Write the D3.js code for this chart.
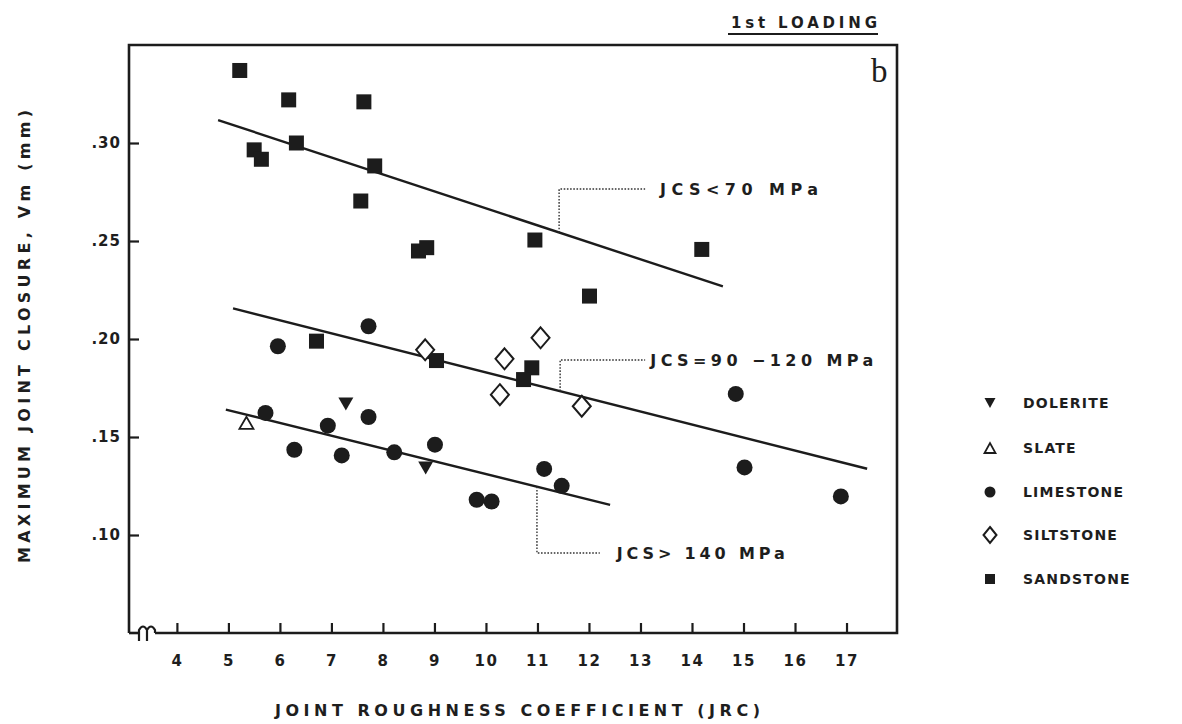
<!DOCTYPE html>
<html>
<head>
<meta charset="utf-8">
<script src="https://cdn.jsdelivr.net/npm/d3@7"></script>
<style>
  html, body { margin: 0; padding: 0; background: #ffffff; }
  svg { display: block; }
  text { font-family: "DejaVu Sans", "Liberation Sans", Arial, sans-serif; font-weight: bold; fill: #1e1e1e; }
</style>
</head>
<body>
<svg id="chart" width="1182" height="724"></svg>
<script>
// ---------------- DATA ----------------
const xTicks = [4, 5, 6, 7, 8, 9, 10, 11, 12, 13, 14, 15, 16, 17];
const yTicks = [0.10, 0.15, 0.20, 0.25, 0.30];

const sandstoneX = [5.22, 6.17, 7.63, 6.32, 5.50, 5.64, 7.84, 7.57, 8.69, 8.85, 10.95, 14.19, 12.01, 6.71, 9.04, 10.89, 10.73];
const sandstoneY = [0.337, 0.322, 0.321, 0.300, 0.2965, 0.2917, 0.2883, 0.2704, 0.2449, 0.2466, 0.2505, 0.2457, 0.2219, 0.1989, 0.189, 0.1853, 0.1793];

const limestoneX = [7.72, 5.96, 5.72, 6.93, 7.72, 6.28, 7.20, 8.22, 9.01, 9.82, 10.11, 14.85, 15.02, 16.89, 11.13, 11.47];
const limestoneY = [0.2065, 0.1963, 0.1623, 0.1558, 0.1602, 0.1435, 0.1406, 0.1422, 0.1461, 0.118, 0.1171, 0.172, 0.1345, 0.1197, 0.1337, 0.1251];

const doleriteX = [7.28, 8.83];
const doleriteY = [0.1669, 0.1342];

const slateX = [5.35];
const slateY = [0.1572];

const siltstoneX = [8.82, 11.06, 10.36, 10.27, 11.86];
const siltstoneY = [0.1945, 0.2006, 0.1899, 0.1716, 0.1657];

// regression lines (JCS<70, JCS=90-120, JCS>140)
const fitStartX = [4.80, 5.09, 4.95];
const fitStartY = [0.3117, 0.2156, 0.1640];
const fitEndX = [14.60, 17.40, 12.41];
const fitEndY = [0.2268, 0.1338, 0.1154];

// annotations for the three lines
const annoLabels = ["JCS<70 MPa", "JCS=90 \u2212120 MPa", "JCS> 140 MPa"];
const annoLeaderX = [11.42, 11.44, 10.99];
const annoElbowY = [0.2765, 0.1893, 0.0908];
const annoEndX = [13.09, 13.09, 12.21];
const annoTextX = [13.38, 13.19, 12.54];
const annoTextWidth = [158, 223, 168];

const legendNames = ["DOLERITE", "SLATE", "LIMESTONE", "SILTSTONE", "SANDSTONE"];

// ---------------- LAYOUT ----------------
const svg = d3.select("#chart");
const pLeft = 129, pRight = 897, pTop = 45, pBottom = 633;
const x = d3.scaleLinear().domain([3.07, 17.98]).range([pLeft, pRight]);
const y = d3.scaleLinear().domain([0.05, 0.35]).range([pBottom, pTop]);
const ink = "#1c1c1c";
const sans = "DejaVu Sans, Liberation Sans, Arial, sans-serif";

svg.append("rect").attr("width", 1182).attr("height", 724).attr("fill", "#ffffff");

// axes (ticks inside)
const xAxis = d3.axisBottom(x).tickValues(xTicks).tickSizeInner(-10).tickSizeOuter(0).tickPadding(22)
  .tickFormat(d3.format("d"));
const gx = svg.append("g").attr("transform", `translate(0,${pBottom})`).call(xAxis);
gx.select(".domain").remove();
gx.selectAll(".tick line").attr("stroke", ink).attr("stroke-width", 2.2);
gx.selectAll(".tick text").style("font-size", "15px").style("letter-spacing", "1.5px")
  .style("font-family", sans).style("font-weight", "bold").attr("fill", ink);

const yAxis = d3.axisLeft(y).tickValues(yTicks).tickSizeInner(-10).tickSizeOuter(0).tickPadding(8)
  .tickFormat(d => d3.format(".2f")(d).replace(/^0/, ""));
const gy = svg.append("g").attr("transform", `translate(${pLeft},0)`).call(yAxis);
gy.select(".domain").remove();
gy.selectAll(".tick line").attr("stroke", ink).attr("stroke-width", 2.2);
gy.selectAll(".tick text").style("font-size", "15px").style("letter-spacing", "1px")
  .style("font-family", sans).style("font-weight", "bold").attr("fill", ink);

// frame
const frame = svg.append("g").attr("stroke", ink).attr("stroke-width", 2.6).attr("fill", "none");
frame.append("path").attr("d", `M${x(3.07)},${y(0.05)} V${y(0.35)} H${x(17.98)} V${y(0.05)} H${pLeft + 26}`);
frame.append("path").attr("d", `M${pLeft},${pBottom} H${pLeft + 10}`);
// axis break mark
frame.append("path").attr("stroke-width", 2.2)
  .attr("d", `M${pLeft + 10},${pBottom + 8} V${pBottom - 3} Q${pLeft + 14},${pBottom - 10} ${pLeft + 18},${pBottom - 3} V${pBottom + 8} M${pLeft + 18},${pBottom - 3} Q${pLeft + 22},${pBottom - 10} ${pLeft + 26},${pBottom - 3} V${pBottom}`);

// regression lines
const fitIdx = d3.range(fitStartX.length);
svg.append("g").selectAll("line").data(fitIdx).join("line")
  .attr("x1", i => x(fitStartX[i])).attr("y1", i => y(fitStartY[i]))
  .attr("x2", i => x(fitEndX[i])).attr("y2", i => y(fitEndY[i]))
  .attr("stroke", ink).attr("stroke-width", 2.4);

// annotation leaders
function fitAt(i, xv) {
  return fitStartY[i] + (xv - fitStartX[i]) * (fitEndY[i] - fitStartY[i]) / (fitEndX[i] - fitStartX[i]);
}
const annoG = svg.append("g");
annoG.selectAll("path").data(fitIdx).join("path")
  .attr("d", i => `M${x(annoLeaderX[i])},${y(fitAt(i, annoLeaderX[i]))} V${y(annoElbowY[i])} H${x(annoEndX[i])}`)
  .attr("fill", "none").attr("stroke", "#333").attr("stroke-width", 1.4).attr("stroke-dasharray", "1.6,1.6");
annoG.selectAll("text").data(fitIdx).join("text")
  .attr("x", i => x(annoTextX[i])).attr("y", i => y(annoElbowY[i]))
  .attr("dy", "0.36em")
  .attr("textLength", i => annoTextWidth[i]).attr("lengthAdjust", "spacing")
  .style("font-size", "16px")
  .text(i => annoLabels[i]);

// markers
function drawSeries(xs, ys, shape) {
  const g = svg.append("g");
  const pts = xs.map((v, i) => ({ x: v, y: ys[i] }));
  const sel = g.selectAll("g").data(pts).join("g")
    .attr("transform", d => `translate(${x(d.x)},${y(d.y)})`);
  shape(sel);
}
const shapeSquare = (s) => sel => sel.append("rect").attr("x", -s / 2).attr("y", -s / 2).attr("width", s).attr("height", s).attr("fill", ink);
const shapeCircle = (r) => sel => sel.append("circle").attr("r", r).attr("fill", ink);
const shapeDown = (w, h) => sel => sel.append("path").attr("d", `M${-w / 2},${-h / 2} L${w / 2},${-h / 2} L0,${h / 2} Z`).attr("fill", ink);
const shapeUp = (w, h) => sel => sel.append("path").attr("d", `M${-w / 2},${h / 2} L${w / 2},${h / 2} L0,${-h / 2} Z`)
  .attr("fill", "#fff").attr("stroke", ink).attr("stroke-width", 1.8);
const shapeDiamond = (w, h) => sel => sel.append("path").attr("d", `M0,${-h / 2} L${w / 2},0 L0,${h / 2} L${-w / 2},0 Z`)
  .attr("fill", "#fff").attr("stroke", ink).attr("stroke-width", 2);

drawSeries(sandstoneX, sandstoneY, shapeSquare(15));
drawSeries(limestoneX, limestoneY, shapeCircle(8));
drawSeries(doleriteX, doleriteY, shapeDown(15, 13));
drawSeries(slateX, slateY, shapeUp(14, 12));
drawSeries(siltstoneX, siltstoneY, shapeDiamond(18, 21));

// legend
const legendY = [403, 448, 492, 535, 579];
const legendShapes = [shapeDown(11, 10), shapeUp(11, 10), shapeCircle(5.5), shapeDiamond(13, 16), shapeSquare(10)];
const lg = svg.append("g");
legendNames.forEach((name, i) => {
  const row = lg.append("g").attr("transform", `translate(990,${legendY[i]})`);
  legendShapes[i](row);
  row.append("text").attr("x", 33).attr("dy", "0.36em")
    .style("font-size", "14px").style("letter-spacing", "1.2px").text(name);
});

// axis titles
svg.append("text").attr("x", 275).attr("y", 716)
  .attr("textLength", 485).attr("lengthAdjust", "spacing")
  .style("font-size", "16px").text("JOINT ROUGHNESS COEFFICIENT   (JRC)");
svg.append("text").attr("transform", "translate(30,563) rotate(-90)")
  .attr("textLength", 453).attr("lengthAdjust", "spacing")
  .style("font-size", "16px").text("MAXIMUM JOINT CLOSURE, Vm (mm)");

// header
svg.append("text").attr("x", 731).attr("y", 28)
  .attr("textLength", 146).attr("lengthAdjust", "spacing")
  .style("font-size", "15px").text("1st LOADING");
svg.append("line").attr("x1", 728).attr("x2", 878).attr("y1", 34).attr("y2", 34)
  .attr("stroke", ink).attr("stroke-width", 2.2);

svg.append("text").attr("x", 871).attr("y", 82)
  .style("font-family", "Liberation Serif, Times New Roman, serif").style("font-weight", "normal")
  .style("font-size", "33px").text("b");
</script>
</body>
</html>
